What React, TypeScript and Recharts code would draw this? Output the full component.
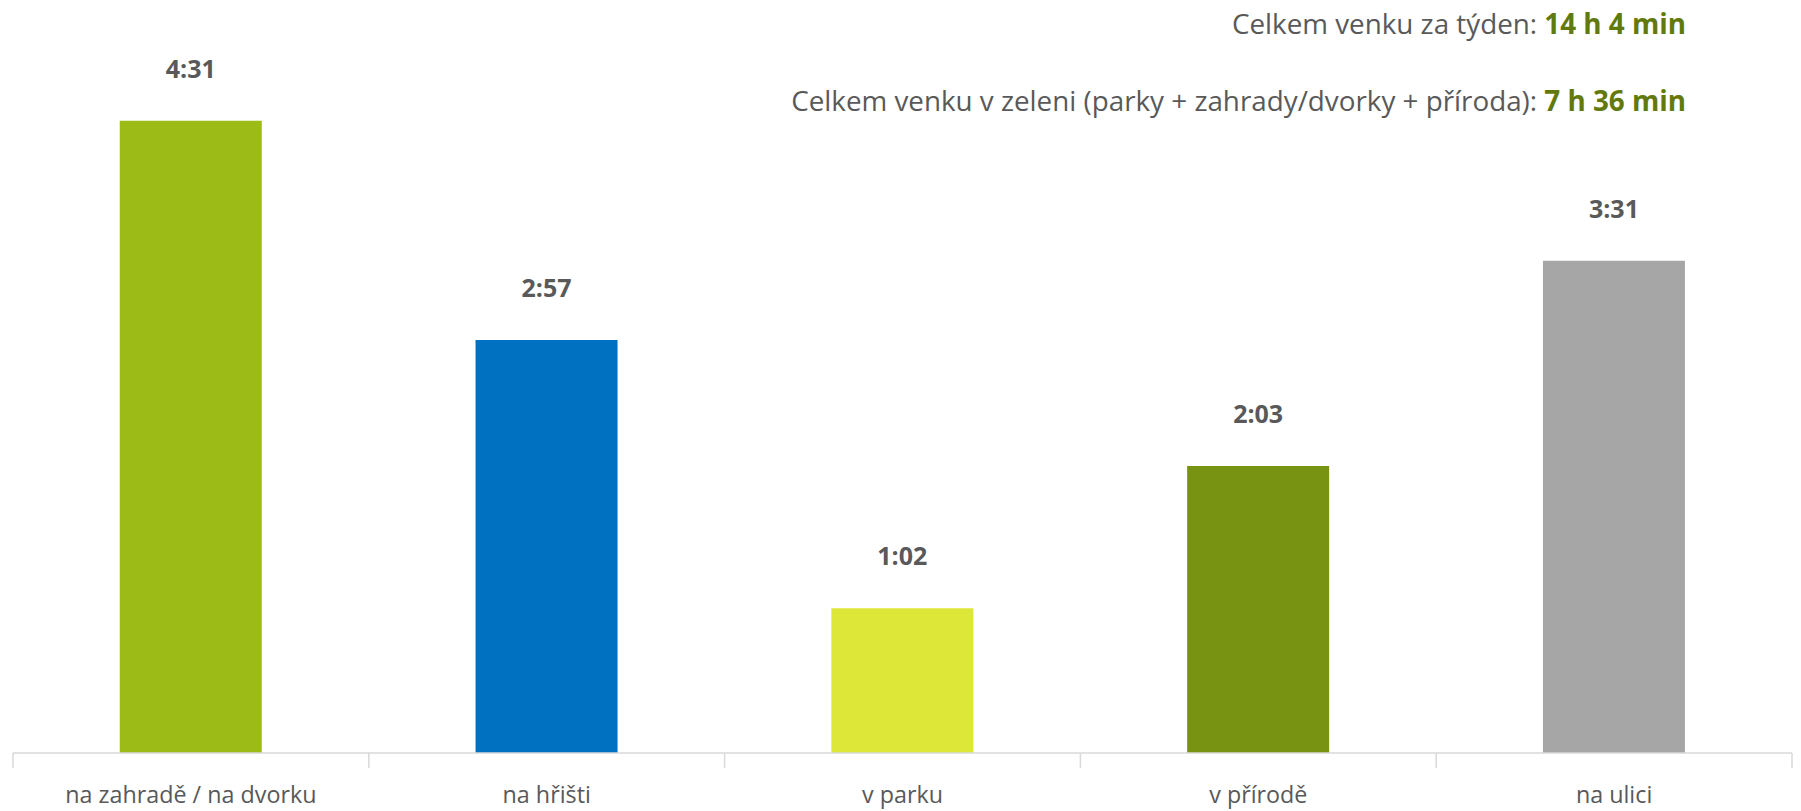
import { Bar, BarChart, Cell, LabelList, XAxis, YAxis } from 'recharts';

const categories = ['na zahradě / na dvorku', 'na hřišti', 'v parku', 'v přírodě', 'na ulici'];
const minutes = [271, 177, 62, 123, 211];
const barColors = ['#9CBB17', '#0070C0', '#DCE737', '#789312', '#A6A6A6'];
// boundaries (whole numbers) get a tick mark, centres (halves) get the category name
const frameTicks = [0, 0.5, 1, 1.5, 2, 2.5, 3, 3.5, 4, 4.5, 5];

const totalLabel = 'Celkem venku za týden: ';
const totalValue = '14 h 4 min';
const greenLabel = 'Celkem venku v zeleni (parky + zahrady/dvorky + příroda): ';
const greenValue = '7 h 36 min';

const FONT = '"Open Sans", Lato, sans-serif';
const TEXT = '#595959';
const AXIS = '#D9D9D9';
const VALUE_GREEN = '#62790C';

function formatMinutes(m: number): string {
  const h = Math.floor(m / 60);
  const mm = m % 60;
  return `${h}:${mm < 10 ? '0' : ''}${mm}`;
}

const data = categories.map((name, i) => ({ name, value: minutes[i], pos: i + 0.5 }));

function FrameTick(props: any) {
  const { x, y, payload } = props;
  const v = payload.value as number;
  if (Number.isInteger(v)) {
    return <line x1={x} x2={x} y1={y} y2={y + 15} stroke={AXIS} strokeWidth={1.5} />;
  }
  return (
    <text
      x={x}
      y={y + 41}
      textAnchor="middle"
      dominantBaseline="central"
      fontFamily={FONT}
      fontSize={23.3}
      fill={TEXT}
    >
      {categories[Math.floor(v)]}
    </text>
  );
}

function BarLabel(props: any) {
  const { x, y, width, value } = props;
  return (
    <text
      x={x + width / 2}
      y={y - 53}
      textAnchor="middle"
      dominantBaseline="central"
      fontFamily={FONT}
      fontWeight="bold"
      fontSize={25}
      fill={TEXT}
    >
      {formatMinutes(value)}
    </text>
  );
}

const headerStyle = {
  position: 'absolute' as const,
  right: 115,
  fontFamily: FONT,
  fontSize: 27.8,
  color: TEXT,
  whiteSpace: 'nowrap' as const,
  lineHeight: '30px',
};

export default function App() {
  return (
    <div style={{ position: 'absolute', left: 0, top: 0, width: 1801, height: 811, background: '#fff' }}>
      <div style={{ ...headerStyle, top: 8 }}>
        {totalLabel}
        <b style={{ color: VALUE_GREEN }}>{totalValue}</b>
      </div>
      <div style={{ ...headerStyle, top: 85 }}>
        {greenLabel}
        <b style={{ color: VALUE_GREEN }}>{greenValue}</b>
      </div>
      <BarChart
        width={1801}
        height={811}
        data={data}
        margin={{ top: 53, right: 9, left: 13, bottom: 9 }}
        barCategoryGap="30%"
      >
        <XAxis xAxisId="cat" dataKey="name" hide height={0} />
        <XAxis
          xAxisId="frame"
          dataKey="pos"
          type="number"
          domain={[0, 5]}
          ticks={frameTicks}
          interval={0}
          height={49}
          tickSize={0}
          tickMargin={0}
          tickLine={false}
          axisLine={{ stroke: AXIS, strokeWidth: 1.5 }}
          tick={<FrameTick />}
          allowDataOverflow
        />
        <YAxis hide domain={[0, 300]} />
        <Bar dataKey="value" xAxisId="cat" isAnimationActive={false}>
          {data.map((d, i) => (
            <Cell key={d.name} fill={barColors[i]} />
          ))}
          <LabelList dataKey="value" content={<BarLabel />} />
        </Bar>
      </BarChart>
    </div>
  );
}
